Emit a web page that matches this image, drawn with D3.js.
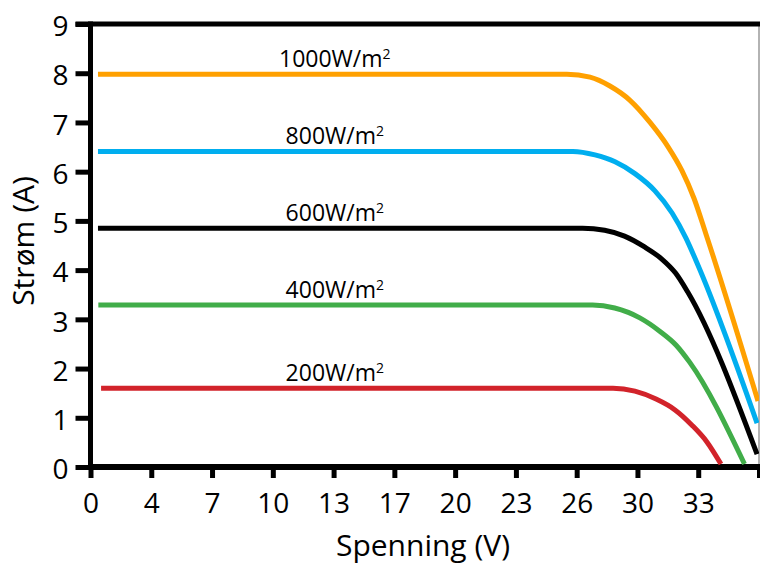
<!DOCTYPE html>
<html>
<head>
<meta charset="utf-8">
<script src="https://cdn.jsdelivr.net/npm/d3@7"></script>
<style>
body { margin: 0; background: #fff; }
text { font-family: "Open Sans", sans-serif; fill: #000; }
</style>
</head>
<body>
<svg id="chart" width="760" height="568"></svg>
<script>

// tick labels as printed on the x axis (last tick has no label)
var xTickLabels = ["0", "4", "7", "10", "13", "17", "20", "23", "26", "30", "33", ""];
var yTicks = [0, 1, 2, 3, 4, 5, 6, 7, 8, 9];

var seriesNames = ["1000W/m", "800W/m", "600W/m", "400W/m", "200W/m"];
var seriesColors = ["#ffa000", "#00aeef", "#000000", "#41ad49", "#d2232a"];

// [voltage V, current A]
var iv1000 = [[0.41, 7.98], [26.13, 7.98], [27.4, 7.92], [28.49, 7.74], [29.59, 7.45], [30.69, 7.0],
              [31.67, 6.51], [32.44, 6.02], [33.1, 5.46], [33.76, 4.73], [36.61, 1.34]];
var iv800 = [[0.41, 6.41], [26.46, 6.41], [27.67, 6.34], [28.77, 6.2], [29.86, 5.96], [30.96, 5.61],
             [31.9, 5.16], [32.66, 4.65], [33.32, 4.1], [36.56, 0.89]];
var iv600 = [[0.41, 4.85], [26.99, 4.85], [28.2, 4.81], [29.29, 4.69], [30.39, 4.47], [31.32, 4.23],
             [32.09, 3.94], [32.75, 3.56], [36.56, 0.26]];
var iv400 = [[0.43, 3.29], [27.54, 3.29], [28.75, 3.23], [30.13, 3.03], [31.22, 2.76], [32.11, 2.48],
             [32.86, 2.13], [35.87, 0.06]];
var iv200 = [[0.58, 1.6], [28.66, 1.6], [29.86, 1.54], [31.02, 1.38], [32.06, 1.16], [32.99, 0.85],
             [33.81, 0.51], [34.58, 0.06]];

var allSeries = [iv1000, iv800, iv600, iv400, iv200];
var labelVoltage = 13.4;

var svg = d3.select("#chart");

var x = d3.scaleLinear().domain([0, 110 / 3]).range([90.5, 759]);
var y = d3.scaleLinear().domain([0, 9]).range([467, 24]);

var xTickValues = xTickLabels.map(function(d, i) { return i * 10 / 3; });

// thin grey frame of the plot area
svg.append("rect")
    .attr("x", x(0)).attr("y", y(9))
    .attr("width", x(110 / 3) - x(0)).attr("height", y(0) - y(9))
    .attr("fill", "none").attr("stroke", "#9a9a9a").attr("stroke-width", 1.5);

var yAxis = svg.append("g")
    .attr("transform", "translate(" + x(0) + ",0)")
    .call(d3.axisLeft(y).tickValues(yTicks).tickSize(15).tickPadding(7));

var xAxis = svg.append("g")
    .attr("transform", "translate(0," + y(0) + ")")
    .call(d3.axisBottom(x).tickValues(xTickValues)
        .tickFormat(function(d, i) { return xTickLabels[i]; })
        .tickSize(11).tickPadding(15));

[yAxis, xAxis].forEach(function(g) {
    g.select(".domain").remove();
    g.selectAll(".tick line").attr("stroke", "#000").attr("stroke-width", 5);
    g.selectAll(".tick text").attr("font-size", 28).attr("font-family", "Open Sans");
});
yAxis.selectAll(".tick text").attr("dy", "0.42em");

// thick black axis lines (left, top, bottom)
svg.append("line").attr("x1", x(0)).attr("x2", x(0)).attr("y1", y(9) - 2.5).attr("y2", y(0) + 3)
    .attr("stroke", "#000").attr("stroke-width", 5);
svg.append("line").attr("x1", x(0) - 15).attr("x2", 760).attr("y1", y(9)).attr("y2", y(9))
    .attr("stroke", "#000").attr("stroke-width", 5);
svg.append("line").attr("x1", x(0) - 2.5).attr("x2", 760).attr("y1", y(0)).attr("y2", y(0))
    .attr("stroke", "#000").attr("stroke-width", 6);

var line = d3.line()
    .x(function(d) { return x(d[0]); })
    .y(function(d) { return y(d[1]); })
    .curve(d3.curveMonotoneX);

svg.append("clipPath").attr("id", "plotclip")
    .append("rect").attr("x", 0).attr("y", 0).attr("width", x(110 / 3)).attr("height", y(0));

svg.append("g").attr("clip-path", "url(#plotclip)")
    .selectAll("path")
    .data(allSeries)
    .join("path")
    .attr("d", line)
    .attr("fill", "none")
    .attr("stroke", function(d, i) { return seriesColors[i]; })
    .attr("stroke-width", 5);

var labels = svg.append("g").selectAll("text")
    .data(allSeries)
    .join("text")
    .attr("x", x(labelVoltage))
    .attr("y", function(d) { return y(d[0][1]) - 7; })
    .attr("text-anchor", "middle")
    .attr("font-size", 23);

labels.append("tspan").text(function(d, i) { return seriesNames[i]; });
labels.append("tspan").attr("font-size", 14).attr("dy", -8).text("2");

svg.append("text")
    .attr("x", 423).attr("y", 556)
    .attr("text-anchor", "middle")
    .attr("font-size", 30)
    .text("Spenning (V)");

svg.append("text")
    .attr("transform", "translate(34,241) rotate(-90)")
    .attr("text-anchor", "middle")
    .attr("font-size", 30)
    .text("Strøm (A)");

</script>
</body>
</html>
